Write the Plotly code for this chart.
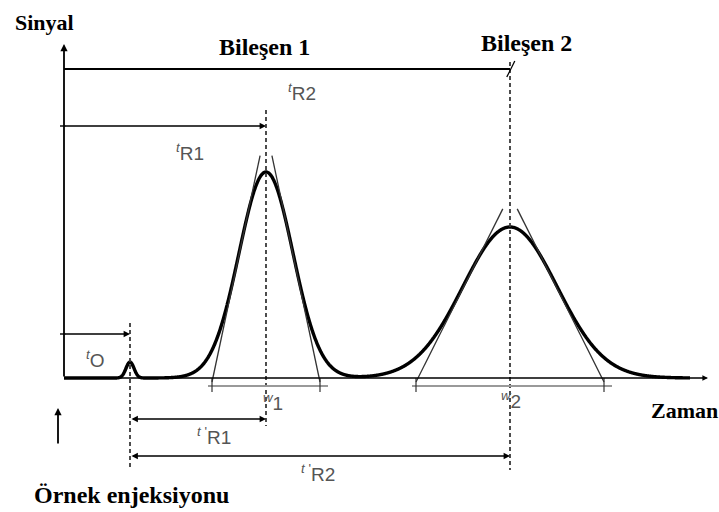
import numpy as np
import plotly.graph_objects as go

# Chromatogram parameters (time in min, signal in arbitrary units)
peak_names = ["t0", "Bileşen 1", "Bileşen 2"]
retention_times = [1.65, 5.05, 11.15]      # t0, tR1, tR2
peak_heights = [8.0, 103.0, 75.5]
peak_sigmas = [0.10, 0.675, 1.175]

t_start, t_end = 0.0, 15.65
x_range = [-1.6, 16.375]
y_range = [-67.0, 189.0]

t0, tR1, tR2 = retention_times

SERIF = "Liberation Serif"
SANS = "Liberation Sans"

# Signal trace
t = np.linspace(t_start, t_end, 1500)
signal = np.zeros_like(t)
for mu, h, s in zip(retention_times, peak_heights, peak_sigmas):
    signal += h * np.exp(-0.5 * ((t - mu) / s) ** 2)

fig = go.Figure()
fig.add_trace(go.Scatter(x=t, y=signal, mode="lines",
                         line=dict(color="black", width=3.4, shape="spline"),
                         hoverinfo="skip"))

# Tangents at inflection points of the two component peaks
tangent_reach = [1.08, 1.12]
for mu, h, s, reach in zip(retention_times[1:], peak_heights[1:], peak_sigmas[1:], tangent_reach):
    slope = h * np.exp(-0.5) / s
    top = reach * h
    for side in (-1, 1):
        x0 = mu + side * 2 * s
        x1 = x0 - side * top / slope
        fig.add_shape(type="line", x0=x0, y0=-2, x1=x1, y1=top,
                      line=dict(color="#333", width=1.3))

# Dashed retention markers
dash_style = dict(color="#3a3a3a", width=1.8, dash="4px,3px")
fig.add_shape(type="line", x0=t0, x1=t0, y0=27.5, y1=-46, line=dash_style)
fig.add_shape(type="line", x0=tR1, x1=tR1, y0=134, y1=-24, line=dash_style)
fig.add_shape(type="line", x0=tR2, x1=tR2, y0=158, y1=-46, line=dash_style)

# Top reference line for tR2
fig.add_shape(type="line", x0=0, x1=tR2, y0=154.5, y1=154.5, line=dict(color="black", width=1.8))
fig.add_shape(type="line", x0=tR2 - 0.08, x1=tR2 + 0.12, y0=150.5, y1=158.5, line=dict(color="black", width=1.3))

# Peak width brackets
for mu, s in zip(retention_times[1:], peak_sigmas[1:]):
    a, b = mu - 2 * s, mu + 2 * s
    fig.add_shape(type="line", x0=a - 0.1, x1=b + 0.2, y0=-4, y1=-4,
                  line=dict(color="#999", width=2.2))
    for xe in (a, b):
        fig.add_shape(type="line", x0=xe, x1=xe, y0=0, y1=-7, line=dict(color="#333", width=1.2))


def arrow(x_head, y_head, x_tail, y_tail, width=1.6, both=False, color="black"):
    fig.add_annotation(x=x_head, y=y_head, ax=x_tail, ay=y_tail,
                       xref="x", yref="y", axref="x", ayref="y",
                       text="", showarrow=True, arrowhead=2, arrowsize=0.8,
                       arrowwidth=width, arrowcolor=color, standoff=0, startstandoff=0,
                       startarrowhead=2, startarrowsize=0.8,
                       arrowside="end+start" if both else "end")


# Axes with arrows
arrow(0, 167, 0, 0, width=1.8)
arrow(16.1, 0, 0, 0, width=1.4)
# Retention time arrows
arrow(tR1, 126, 0, 126)
arrow(t0, 22, 0, 22)
arrow(tR1, -20.5, t0, -20.5, both=True)
arrow(tR2, -39, t0, -39, both=True)
# Injection marker
arrow(-0.15, -15, -0.15, -33.5, width=1.8)

# Small ticks at the y-axis
for yy in (126, 22):
    fig.add_shape(type="line", x0=-0.1, x1=0.05, y0=yy, y1=yy, line=dict(color="black", width=1.4))


def label(x, y, text, size=23, family=SERIF, color="black", xanchor="center"):
    fig.add_annotation(x=x, y=y, xref="x", yref="y", text=text, showarrow=False,
                       xanchor=xanchor, yanchor="middle",
                       font=dict(family=family, size=size, color=color))


label(-1.28, 178, "<b>Sinyal</b>", size=22, xanchor="left")
label(5.0, 165.5, "<b>Bileşen 1</b>", size=24)
label(11.55, 167.5, "<b>Bileşen 2</b>", size=24)
label(14.62, -16, "<b>Zaman</b>", size=22, xanchor="left")
label(-0.8, -58.5, "<b>Örnek enjeksiyonu</b>", size=24, xanchor="left")

gray = "#555"
label(5.95, 143, "<sup><i>t</i></sup>R2", size=19, family=SANS, color=gray)
label(3.15, 113, "<sup><i>t</i></sup>R1", size=19, family=SANS, color=gray)
label(0.78, 9.5, "<sup><i>t</i></sup>O", size=19, family=SANS, color=gray)
label(5.22, -12, "<sup><i>w</i></sup>1", size=19, family=SANS, color=gray)
label(11.17, -11, "<sup><i>w</i></sup>2", size=19, family=SANS, color=gray)
label(3.75, -29, "<sup><i>t</i> '</sup>R1", size=19, family=SANS, color=gray)
label(6.35, -47.5, "<sup><i>t</i> '</sup>R2", size=19, family=SANS, color=gray)

fig.update_layout(
    width=719, height=512,
    margin=dict(l=0, r=0, t=0, b=0),
    paper_bgcolor="white", plot_bgcolor="white",
    showlegend=False,
    font=dict(family=SERIF),
    xaxis=dict(range=x_range, visible=False, fixedrange=True),
    yaxis=dict(range=y_range, visible=False, fixedrange=True),
)

fig.write_html("out.html")
